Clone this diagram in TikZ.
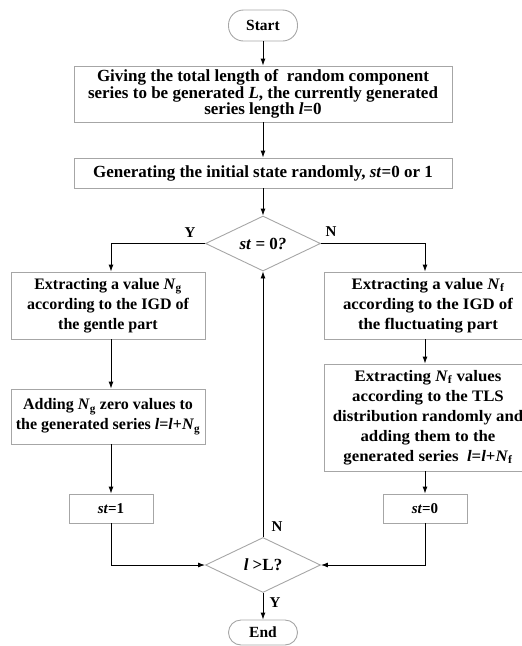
\documentclass[tikz,border=0pt]{standalone}
\usepackage{fontspec}
\setmainfont{Liberation Serif}
\newfontfamily\stretchB[FakeStretch=1.05]{Liberation Serif}
\usetikzlibrary{shapes.geometric,arrows.meta}
\begin{document}
\begin{tikzpicture}[x=1pt,y=1pt,
 box/.style={draw=gray!70, line width=0.9pt, rectangle, align=center, inner sep=0pt, font=\fontsize{17}{16.5}\selectfont\bfseries},
 midbox/.style={box, font=\fontsize{16}{20}\selectfont\bfseries},
 rbox/.style={box, font=\stretchB\fontsize{16}{20}\selectfont\bfseries},
 smallbox/.style={box, font=\fontsize{15}{17}\selectfont\bfseries},
 term/.style={box, font=\fontsize{15.5}{17}\selectfont\bfseries},
 dec/.style={draw=gray!70, line width=0.9pt, diamond, shape aspect=2, inner sep=0pt, minimum width=115pt, minimum height=55pt, font=\fontsize{17}{17}\selectfont\bfseries},
 lab/.style={font=\fontsize{15}{17}\selectfont\bfseries, inner sep=0pt},
 conn/.style={line width=0.9pt, -{Latex[length=7pt,width=5pt]}},
]
\useasboundingbox (0,0) rectangle (522,-646);
\begin{scope}
\clip (0,0) rectangle (522,-646);
\node[term, minimum width=69pt, minimum height=31pt, rounded corners=15pt] (start) at (263,-25.5) {Start};
\node[box, minimum width=378pt, minimum height=56pt] (b1) at (263,-94) {Giving the total length of \ random component\\ series to be generated \textit{L}, the currently generated\\ series length \textit{l}=0};
\node[box, minimum width=378pt, minimum height=30pt] (b2) at (263,-173) {Generating the initial state randomly, \textit{st}=0 or 1};
\node[dec] (d1) at (263,-243.5) {\textit{st} = 0\textit{?}};
\node[midbox, minimum width=194pt, minimum height=67pt] (l1) at (108,-305.5) {Extracting a value \textit{N}\textsubscript{g}\\ according to the IGD of\\ the gentle part};
\node[midbox, minimum width=194pt, minimum height=55pt] (l2) at (108,-416.5) {Adding \textit{N}\textsubscript{g} zero values to\\ the generated series \textit{l}=\textit{l}+\textit{N}\textsubscript{g}};
\node[smallbox, minimum width=84pt, minimum height=29pt] (s1) at (111,-508.5) {\textit{st}=1};
\node[rbox, minimum width=208pt, minimum height=67pt] (r1) at (428,-305.5) {Extracting a value \textit{N}\textsubscript{f}\\ according to the IGD of\\ the fluctuating part};
\node[rbox, minimum width=208pt, minimum height=107pt] (r2) at (428,-417.5) {Extracting \textit{N}\textsubscript{f} values\\ according to the TLS\\ distribution randomly and\\ adding them to the\\ generated series \ \textit{l}=\textit{l}+\textit{N}\textsubscript{f}};
\node[smallbox, minimum width=84pt, minimum height=29pt] (s0) at (425,-508.5) {\textit{st}=0};
\node[dec] (d2) at (263,-565) {\textit{l} >L?};
\node[term, minimum width=69pt, minimum height=25pt, rounded corners=12.5pt] (end) at (263,-632.5) {End};

\draw[conn] (start) -- (b1);
\draw[conn] (b1) -- (b2);
\draw[conn] (b2) -- (d1);
\draw[conn] (d1.west) -| ([xshift=3pt]l1.north);
\draw[conn] (d1.east) -| ([xshift=-3pt]r1.north);
\draw[conn] ([xshift=3pt]l1.south) -- ([xshift=3pt]l2.north);
\draw[conn] ([xshift=3pt]l2.south) -- (s1.north);
\draw[conn] ([xshift=-3pt]r1.south) -- ([xshift=-3pt]r2.north);
\draw[conn] ([xshift=-3pt]r2.south) -- (s0.north);
\draw[conn] (s1.south) |- (d2.west);
\draw[conn] (s0.south) |- (d2.east);
\draw[conn] (d2.north) -- (d1.south);
\draw[conn] (d2.south) -- (end.north);

\node[lab] (ly1) at (190,-233) {Y};
\node[lab] (ln1) at (331,-232) {N};
\node[lab] (ln2) at (277,-527) {N};
\node[lab] (ly2) at (275,-603) {Y};
\end{scope}
\end{tikzpicture}
\end{document}
